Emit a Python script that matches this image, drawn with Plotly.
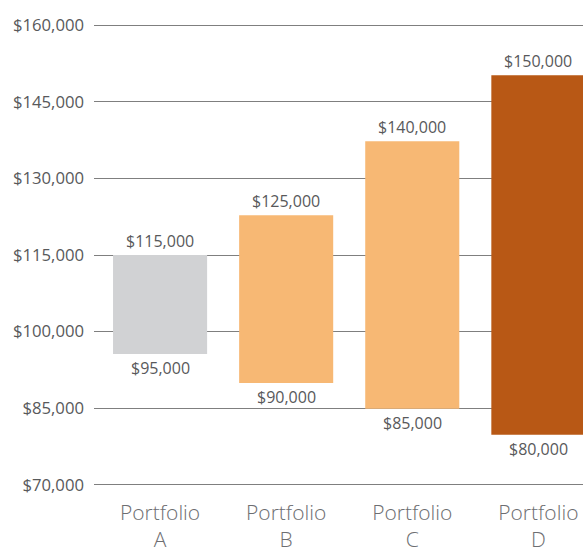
import plotly.graph_objects as go

categories = ["Portfolio<br>A", "Portfolio<br>B", "Portfolio<br>C", "Portfolio<br>D"]
# bar extents as drawn in the picture
bar_low = [95600, 89950, 84870, 79780]
bar_high = [115000, 122770, 137300, 150220]
# printed labels
label_high = ["$115,000", "$125,000", "$140,000", "$150,000"]
label_low = ["$95,000", "$90,000", "$85,000", "$80,000"]
bar_colors = ["#d1d2d4", "#f7b874", "#f7b874", "#b85815"]
y_ticks = [70000, 85000, 100000, 115000, 130000, 145000, 160000]

xs = list(range(len(categories)))

fig = go.Figure()
fig.add_trace(go.Bar(
    x=xs,
    y=[h - l for h, l in zip(bar_high, bar_low)],
    base=bar_low,
    marker=dict(color=bar_colors, line=dict(width=0)),
    width=0.746,
    hoverinfo="skip",
))

lab_font = dict(family="Open Sans", size=16, color="#58595b")
for x, yh, yl, th, tl in zip(xs, bar_high, bar_low, label_high, label_low):
    fig.add_annotation(x=x, y=yh, text=th, showarrow=False, yanchor="bottom",
                       yshift=1, font=lab_font)
    fig.add_annotation(x=x, y=yl, text=tl, showarrow=False, yanchor="top",
                       yshift=-1, font=lab_font)

fig.update_layout(
    width=583, height=560,
    margin=dict(l=94, r=0, t=14.5, b=64.8),
    paper_bgcolor="white", plot_bgcolor="white",
    showlegend=False,
    font=dict(family="Open Sans", color="#58595b"),
    xaxis=dict(
        range=[-0.524, 3.354],
        tickvals=xs, ticktext=categories,
        tickfont=dict(family="Open Sans", size=21, color="#6d6e71", weight=300),
        showgrid=False, zeroline=False, showline=False, ticks="",
        ticklabelstandoff=3,
        fixedrange=True,
    ),
    yaxis=dict(
        range=[68000, 162000],
        tickvals=y_ticks,
        ticktext=["${:,}".format(v) for v in y_ticks],
        tickfont=dict(family="Open Sans", size=16.7, color="#58595b"),
        showgrid=True, gridcolor="#7f7f7f", gridwidth=1.3,
        zeroline=False, showline=False, ticks="",
        ticklabelstandoff=9,
        layer="below traces",
    ),
)

fig.write_html("out.html", config={"displayModeBar": False},
               post_script="document.body.style.margin='0';document.body.style.overflow='hidden';")
